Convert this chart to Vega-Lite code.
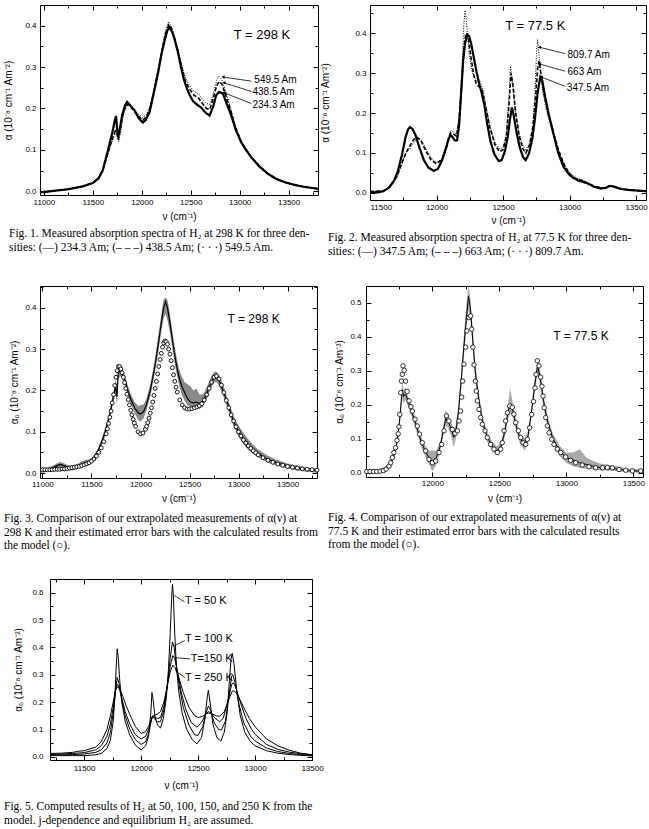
{
"$schema": "https://vega.github.io/schema/vega-lite/v6.json",
"background": "white",
"padding": {"left": 3, "top": 4, "right": 0, "bottom": 0},
"config": {
  "view": {"stroke": "black", "strokeWidth": 1},
  "axis": {"grid": false, "domain": false, "ticks": true, "tickColor": "black", "tickWidth": 1, "labelFont": "Liberation Sans", "labelFontSize": 8, "labelColor": "black", "titleFont": "Liberation Sans", "titleFontSize": 10, "titleFontWeight": "normal", "titleColor": "black", "labelOverlap": false},
  "title": {"font": "Liberation Serif", "fontSize": 11.5, "fontWeight": "normal", "color": "black", "anchor": "start", "orient": "bottom", "frame": "group", "lineHeight": 13.5, "offset": 7},
  "text": {"font": "Liberation Sans", "color": "black"}
},
"datasets": {
"p1": [
{"s":"a","x":10960,"y":-0.003},{"s":"a","x":11100,"y":0.001},{"s":"a","x":11250,"y":0.005},{"s":"a","x":11400,"y":0.012},{"s":"a","x":11500,"y":0.02},{"s":"a","x":11560,"y":0.032},{"s":"a","x":11600,"y":0.05},{"s":"a","x":11650,"y":0.095},{"s":"a","x":11700,"y":0.143},{"s":"a","x":11725,"y":0.172},{"s":"a","x":11737,"y":0.182},{"s":"a","x":11748,"y":0.15},{"s":"a","x":11758,"y":0.13},{"s":"a","x":11775,"y":0.15},{"s":"a","x":11800,"y":0.185},{"s":"a","x":11830,"y":0.208},{"s":"a","x":11850,"y":0.216},{"s":"a","x":11880,"y":0.208},{"s":"a","x":11925,"y":0.196},{"s":"a","x":11970,"y":0.176},{"s":"a","x":12010,"y":0.166},{"s":"a","x":12040,"y":0.172},{"s":"a","x":12078,"y":0.19},{"s":"a","x":12120,"y":0.235},{"s":"a","x":12164,"y":0.283},{"s":"a","x":12200,"y":0.33},{"s":"a","x":12232,"y":0.363},{"s":"a","x":12260,"y":0.388},{"s":"a","x":12283,"y":0.396},{"s":"a","x":12310,"y":0.385},{"s":"a","x":12334,"y":0.368},{"s":"a","x":12370,"y":0.335},{"s":"a","x":12402,"y":0.298},{"s":"a","x":12430,"y":0.27},{"s":"a","x":12453,"y":0.253},{"s":"a","x":12490,"y":0.232},{"s":"a","x":12522,"y":0.218},{"s":"a","x":12560,"y":0.21},{"s":"a","x":12607,"y":0.202},{"s":"a","x":12650,"y":0.19},{"s":"a","x":12692,"y":0.183},{"s":"a","x":12730,"y":0.205},{"s":"a","x":12760,"y":0.232},{"s":"a","x":12790,"y":0.24},{"s":"a","x":12828,"y":0.236},{"s":"a","x":12870,"y":0.21},{"s":"a","x":12914,"y":0.183},{"s":"a","x":12960,"y":0.148},{"s":"a","x":13016,"y":0.118},{"s":"a","x":13070,"y":0.098},{"s":"a","x":13118,"y":0.082},{"s":"a","x":13200,"y":0.06},{"s":"a","x":13289,"y":0.042},{"s":"a","x":13370,"y":0.03},{"s":"a","x":13459,"y":0.022},{"s":"a","x":13550,"y":0.016},{"s":"a","x":13650,"y":0.011},{"s":"a","x":13800,"y":0.006},
{"s":"b","x":10960,"y":-0.003},{"s":"b","x":11100,"y":0.001},{"s":"b","x":11250,"y":0.005},{"s":"b","x":11400,"y":0.012},{"s":"b","x":11500,"y":0.02},{"s":"b","x":11560,"y":0.032},{"s":"b","x":11600,"y":0.05},{"s":"b","x":11650,"y":0.09},{"s":"b","x":11700,"y":0.128},{"s":"b","x":11730,"y":0.146},{"s":"b","x":11745,"y":0.142},{"s":"b","x":11760,"y":0.125},{"s":"b","x":11780,"y":0.15},{"s":"b","x":11810,"y":0.19},{"s":"b","x":11840,"y":0.207},{"s":"b","x":11860,"y":0.21},{"s":"b","x":11900,"y":0.2},{"s":"b","x":11950,"y":0.185},{"s":"b","x":12010,"y":0.172},{"s":"b","x":12050,"y":0.18},{"s":"b","x":12090,"y":0.205},{"s":"b","x":12130,"y":0.248},{"s":"b","x":12170,"y":0.295},{"s":"b","x":12210,"y":0.345},{"s":"b","x":12245,"y":0.383},{"s":"b","x":12275,"y":0.402},{"s":"b","x":12300,"y":0.395},{"s":"b","x":12334,"y":0.37},{"s":"b","x":12370,"y":0.338},{"s":"b","x":12402,"y":0.305},{"s":"b","x":12440,"y":0.27},{"s":"b","x":12480,"y":0.25},{"s":"b","x":12530,"y":0.233},{"s":"b","x":12580,"y":0.225},{"s":"b","x":12620,"y":0.212},{"s":"b","x":12660,"y":0.2},{"s":"b","x":12695,"y":0.198},{"s":"b","x":12730,"y":0.225},{"s":"b","x":12765,"y":0.255},{"s":"b","x":12790,"y":0.265},{"s":"b","x":12820,"y":0.258},{"s":"b","x":12860,"y":0.23},{"s":"b","x":12914,"y":0.19},{"s":"b","x":12960,"y":0.152},{"s":"b","x":13016,"y":0.12},{"s":"b","x":13070,"y":0.099},{"s":"b","x":13118,"y":0.083},{"s":"b","x":13200,"y":0.061},{"s":"b","x":13289,"y":0.043},{"s":"b","x":13370,"y":0.031},{"s":"b","x":13459,"y":0.022},{"s":"b","x":13550,"y":0.016},{"s":"b","x":13650,"y":0.011},{"s":"b","x":13800,"y":0.006},
{"s":"c","x":10960,"y":-0.003},{"s":"c","x":11100,"y":0.001},{"s":"c","x":11250,"y":0.005},{"s":"c","x":11400,"y":0.012},{"s":"c","x":11500,"y":0.02},{"s":"c","x":11560,"y":0.032},{"s":"c","x":11600,"y":0.05},{"s":"c","x":11650,"y":0.088},{"s":"c","x":11700,"y":0.122},{"s":"c","x":11730,"y":0.14},{"s":"c","x":11748,"y":0.135},{"s":"c","x":11765,"y":0.12},{"s":"c","x":11785,"y":0.145},{"s":"c","x":11815,"y":0.188},{"s":"c","x":11845,"y":0.205},{"s":"c","x":11865,"y":0.208},{"s":"c","x":11905,"y":0.2},{"s":"c","x":11955,"y":0.188},{"s":"c","x":12010,"y":0.178},{"s":"c","x":12050,"y":0.185},{"s":"c","x":12090,"y":0.21},{"s":"c","x":12130,"y":0.252},{"s":"c","x":12170,"y":0.3},{"s":"c","x":12210,"y":0.35},{"s":"c","x":12245,"y":0.39},{"s":"c","x":12272,"y":0.41},{"s":"c","x":12300,"y":0.4},{"s":"c","x":12334,"y":0.375},{"s":"c","x":12370,"y":0.342},{"s":"c","x":12402,"y":0.31},{"s":"c","x":12440,"y":0.278},{"s":"c","x":12480,"y":0.258},{"s":"c","x":12530,"y":0.242},{"s":"c","x":12580,"y":0.235},{"s":"c","x":12620,"y":0.222},{"s":"c","x":12660,"y":0.212},{"s":"c","x":12695,"y":0.21},{"s":"c","x":12730,"y":0.235},{"s":"c","x":12765,"y":0.268},{"s":"c","x":12785,"y":0.278},{"s":"c","x":12815,"y":0.27},{"s":"c","x":12860,"y":0.24},{"s":"c","x":12914,"y":0.195},{"s":"c","x":12960,"y":0.155},{"s":"c","x":13016,"y":0.122},{"s":"c","x":13070,"y":0.1},{"s":"c","x":13118,"y":0.084},{"s":"c","x":13200,"y":0.062},{"s":"c","x":13289,"y":0.044},{"s":"c","x":13370,"y":0.032},{"s":"c","x":13459,"y":0.023},{"s":"c","x":13550,"y":0.016},{"s":"c","x":13650,"y":0.011},{"s":"c","x":13800,"y":0.006}
],
"p1l": [{"x":13150,"y":0.27,"t":"549.5 Am"},{"x":13130,"y":0.24,"t":"438.5 Am"},{"x":13130,"y":0.208,"t":"234.3 Am"}],
"p1a": [{"x":13120,"y":0.266,"x2":12830,"y2":0.276},{"x":13120,"y":0.241,"x2":12840,"y2":0.262},{"x":13120,"y":0.212,"x2":12840,"y2":0.238}],
"p1T": [{"x":12939,"y":0.377,"t":"T = 298 K"}],
"p2": [
{"s":"a","x":11500,"y":0.002},{"s":"a","x":11560,"y":0.001},{"s":"a","x":11600,"y":0.004},{"s":"a","x":11640,"y":0.012},{"s":"a","x":11680,"y":0.03},{"s":"a","x":11710,"y":0.055},{"s":"a","x":11740,"y":0.095},{"s":"a","x":11767,"y":0.139},{"s":"a","x":11785,"y":0.158},{"s":"a","x":11800,"y":0.165},{"s":"a","x":11820,"y":0.16},{"s":"a","x":11842,"y":0.145},{"s":"a","x":11870,"y":0.115},{"s":"a","x":11905,"y":0.082},{"s":"a","x":11940,"y":0.063},{"s":"a","x":11980,"y":0.055},{"s":"a","x":12010,"y":0.06},{"s":"a","x":12040,"y":0.08},{"s":"a","x":12070,"y":0.11},{"s":"a","x":12090,"y":0.135},{"s":"a","x":12105,"y":0.145},{"s":"a","x":12120,"y":0.14},{"s":"a","x":12140,"y":0.13},{"s":"a","x":12155,"y":0.132},{"s":"a","x":12170,"y":0.17},{"s":"a","x":12185,"y":0.25},{"s":"a","x":12200,"y":0.33},{"s":"a","x":12215,"y":0.375},{"s":"a","x":12230,"y":0.395},{"s":"a","x":12245,"y":0.393},{"s":"a","x":12260,"y":0.375},{"s":"a","x":12280,"y":0.34},{"s":"a","x":12300,"y":0.305},{"s":"a","x":12320,"y":0.275},{"s":"a","x":12340,"y":0.25},{"s":"a","x":12360,"y":0.22},{"s":"a","x":12380,"y":0.175},{"s":"a","x":12405,"y":0.13},{"s":"a","x":12435,"y":0.097},{"s":"a","x":12467,"y":0.08},{"s":"a","x":12490,"y":0.082},{"s":"a","x":12515,"y":0.105},{"s":"a","x":12535,"y":0.14},{"s":"a","x":12555,"y":0.19},{"s":"a","x":12567,"y":0.214},{"s":"a","x":12580,"y":0.195},{"s":"a","x":12600,"y":0.155},{"s":"a","x":12625,"y":0.115},{"s":"a","x":12650,"y":0.09},{"s":"a","x":12670,"y":0.082},{"s":"a","x":12695,"y":0.098},{"s":"a","x":12720,"y":0.135},{"s":"a","x":12740,"y":0.185},{"s":"a","x":12760,"y":0.25},{"s":"a","x":12780,"y":0.29},{"s":"a","x":12795,"y":0.282},{"s":"a","x":12817,"y":0.24},{"s":"a","x":12845,"y":0.195},{"s":"a","x":12880,"y":0.147},{"s":"a","x":12915,"y":0.1},{"s":"a","x":12955,"y":0.065},{"s":"a","x":13000,"y":0.045},{"s":"a","x":13030,"y":0.037},{"s":"a","x":13070,"y":0.03},{"s":"a","x":13105,"y":0.027},{"s":"a","x":13140,"y":0.023},{"s":"a","x":13180,"y":0.016},{"s":"a","x":13230,"y":0.011},{"s":"a","x":13270,"y":0.012},{"s":"a","x":13300,"y":0.017},{"s":"a","x":13330,"y":0.016},{"s":"a","x":13380,"y":0.01},{"s":"a","x":13450,"y":0.007},{"s":"a","x":13575,"y":0.004},
{"s":"b","x":11500,"y":0.003},{"s":"b","x":11600,"y":0.005},{"s":"b","x":11650,"y":0.015},{"s":"b","x":11700,"y":0.04},{"s":"b","x":11740,"y":0.075},{"s":"b","x":11770,"y":0.1},{"s":"b","x":11800,"y":0.118},{"s":"b","x":11825,"y":0.132},{"s":"b","x":11850,"y":0.14},{"s":"b","x":11880,"y":0.133},{"s":"b","x":11920,"y":0.105},{"s":"b","x":11960,"y":0.082},{"s":"b","x":12000,"y":0.073},{"s":"b","x":12040,"y":0.083},{"s":"b","x":12080,"y":0.12},{"s":"b","x":12105,"y":0.15},{"s":"b","x":12125,"y":0.148},{"s":"b","x":12150,"y":0.142},{"s":"b","x":12170,"y":0.18},{"s":"b","x":12190,"y":0.27},{"s":"b","x":12205,"y":0.36},{"s":"b","x":12220,"y":0.4},{"s":"b","x":12235,"y":0.398},{"s":"b","x":12255,"y":0.35},{"s":"b","x":12280,"y":0.295},{"s":"b","x":12300,"y":0.272},{"s":"b","x":12325,"y":0.265},{"s":"b","x":12345,"y":0.255},{"s":"b","x":12370,"y":0.215},{"s":"b","x":12400,"y":0.165},{"s":"b","x":12440,"y":0.12},{"s":"b","x":12475,"y":0.103},{"s":"b","x":12500,"y":0.108},{"s":"b","x":12525,"y":0.14},{"s":"b","x":12545,"y":0.22},{"s":"b","x":12560,"y":0.3},{"s":"b","x":12575,"y":0.27},{"s":"b","x":12595,"y":0.2},{"s":"b","x":12620,"y":0.145},{"s":"b","x":12650,"y":0.11},{"s":"b","x":12672,"y":0.1},{"s":"b","x":12700,"y":0.12},{"s":"b","x":12725,"y":0.165},{"s":"b","x":12745,"y":0.24},{"s":"b","x":12760,"y":0.31},{"s":"b","x":12770,"y":0.33},{"s":"b","x":12785,"y":0.3},{"s":"b","x":12810,"y":0.245},{"s":"b","x":12840,"y":0.2},{"s":"b","x":12880,"y":0.15},{"s":"b","x":12920,"y":0.105},{"s":"b","x":12960,"y":0.07},{"s":"b","x":13000,"y":0.048},{"s":"b","x":13050,"y":0.035},{"s":"b","x":13100,"y":0.03},{"s":"b","x":13150,"y":0.022},{"s":"b","x":13200,"y":0.015},{"s":"b","x":13260,"y":0.012},{"s":"b","x":13300,"y":0.017},{"s":"b","x":13340,"y":0.015},{"s":"b","x":13400,"y":0.009},{"s":"b","x":13575,"y":0.004},
{"s":"c","x":11500,"y":0.003},{"s":"c","x":11600,"y":0.005},{"s":"c","x":11650,"y":0.014},{"s":"c","x":11700,"y":0.036},{"s":"c","x":11740,"y":0.07},{"s":"c","x":11760,"y":0.095},{"s":"c","x":11770,"y":0.1},{"s":"c","x":11800,"y":0.11},{"s":"c","x":11830,"y":0.128},{"s":"c","x":11860,"y":0.137},{"s":"c","x":11890,"y":0.13},{"s":"c","x":11930,"y":0.105},{"s":"c","x":11970,"y":0.083},{"s":"c","x":12000,"y":0.076},{"s":"c","x":12040,"y":0.085},{"s":"c","x":12080,"y":0.125},{"s":"c","x":12105,"y":0.155},{"s":"c","x":12125,"y":0.153},{"s":"c","x":12150,"y":0.147},{"s":"c","x":12170,"y":0.19},{"s":"c","x":12190,"y":0.3},{"s":"c","x":12205,"y":0.42},{"s":"c","x":12215,"y":0.458},{"s":"c","x":12228,"y":0.42},{"s":"c","x":12245,"y":0.35},{"s":"c","x":12270,"y":0.3},{"s":"c","x":12300,"y":0.28},{"s":"c","x":12325,"y":0.28},{"s":"c","x":12345,"y":0.265},{"s":"c","x":12370,"y":0.22},{"s":"c","x":12400,"y":0.17},{"s":"c","x":12440,"y":0.125},{"s":"c","x":12475,"y":0.11},{"s":"c","x":12500,"y":0.113},{"s":"c","x":12525,"y":0.15},{"s":"c","x":12545,"y":0.24},{"s":"c","x":12557,"y":0.318},{"s":"c","x":12570,"y":0.28},{"s":"c","x":12590,"y":0.21},{"s":"c","x":12620,"y":0.15},{"s":"c","x":12650,"y":0.118},{"s":"c","x":12672,"y":0.108},{"s":"c","x":12700,"y":0.125},{"s":"c","x":12725,"y":0.17},{"s":"c","x":12740,"y":0.25},{"s":"c","x":12752,"y":0.35},{"s":"c","x":12760,"y":0.385},{"s":"c","x":12772,"y":0.34},{"s":"c","x":12795,"y":0.26},{"s":"c","x":12830,"y":0.2},{"s":"c","x":12870,"y":0.155},{"s":"c","x":12910,"y":0.11},{"s":"c","x":12960,"y":0.072},{"s":"c","x":13000,"y":0.05},{"s":"c","x":13050,"y":0.037},{"s":"c","x":13100,"y":0.032},{"s":"c","x":13150,"y":0.022},{"s":"c","x":13200,"y":0.015},{"s":"c","x":13260,"y":0.012},{"s":"c","x":13300,"y":0.018},{"s":"c","x":13340,"y":0.015},{"s":"c","x":13400,"y":0.009},{"s":"c","x":13575,"y":0.004}
],
"p2l": [{"x":12985,"y":0.345,"t":"809.7 Am"},{"x":12985,"y":0.303,"t":"663 Am"},{"x":12980,"y":0.262,"t":"347.5 Am"}],
"p2a": [{"x":12967,"y":0.349,"x2":12775,"y2":0.365},{"x":12967,"y":0.305,"x2":12775,"y2":0.323},{"x":12967,"y":0.267,"x2":12790,"y2":0.29}],
"p2T": [{"x":12517,"y":0.418,"t":"T = 77.5 K"}],
"p3m": [
{"x":10980,"y":0.005,"lo":0.0,"hi":0.011},{"x":11050,"y":0.008,"lo":0.003,"hi":0.013},{"x":11100,"y":0.012,"lo":0.006,"hi":0.017},{"x":11150,"y":0.018,"lo":0.012,"hi":0.024},{"x":11180,"y":0.021,"lo":0.015,"hi":0.027},{"x":11220,"y":0.018,"lo":0.012,"hi":0.024},{"x":11260,"y":0.013,"lo":0.007,"hi":0.019},{"x":11300,"y":0.012,"lo":0.006,"hi":0.018},{"x":11350,"y":0.015,"lo":0.009,"hi":0.021},{"x":11400,"y":0.022,"lo":0.016,"hi":0.028},{"x":11440,"y":0.026,"lo":0.02,"hi":0.032},{"x":11480,"y":0.027,"lo":0.021,"hi":0.033},{"x":11520,"y":0.035,"lo":0.028,"hi":0.042},{"x":11560,"y":0.05,"lo":0.043,"hi":0.057},{"x":11600,"y":0.072,"lo":0.064,"hi":0.08},{"x":11640,"y":0.1,"lo":0.09,"hi":0.11},{"x":11680,"y":0.135,"lo":0.125,"hi":0.145},{"x":11720,"y":0.18,"lo":0.168,"hi":0.192},{"x":11745,"y":0.21,"lo":0.195,"hi":0.225},{"x":11760,"y":0.185,"lo":0.165,"hi":0.215},{"x":11772,"y":0.24,"lo":0.225,"hi":0.255},{"x":11790,"y":0.25,"lo":0.235,"hi":0.262},{"x":11810,"y":0.245,"lo":0.232,"hi":0.258},{"x":11840,"y":0.225,"lo":0.213,"hi":0.237},{"x":11870,"y":0.2,"lo":0.188,"hi":0.212},{"x":11900,"y":0.18,"lo":0.168,"hi":0.192},{"x":11940,"y":0.158,"lo":0.144,"hi":0.172},{"x":11980,"y":0.145,"lo":0.128,"hi":0.162},{"x":12000,"y":0.143,"lo":0.125,"hi":0.165},{"x":12030,"y":0.148,"lo":0.132,"hi":0.166},{"x":12060,"y":0.165,"lo":0.15,"hi":0.18},{"x":12100,"y":0.2,"lo":0.185,"hi":0.215},{"x":12140,"y":0.25,"lo":0.235,"hi":0.265},{"x":12180,"y":0.31,"lo":0.29,"hi":0.33},{"x":12210,"y":0.36,"lo":0.34,"hi":0.38},{"x":12235,"y":0.4,"lo":0.375,"hi":0.42},{"x":12255,"y":0.415,"lo":0.385,"hi":0.425},{"x":12275,"y":0.4,"lo":0.37,"hi":0.42},{"x":12300,"y":0.365,"lo":0.34,"hi":0.385},{"x":12330,"y":0.315,"lo":0.295,"hi":0.335},{"x":12360,"y":0.27,"lo":0.25,"hi":0.29},{"x":12390,"y":0.235,"lo":0.215,"hi":0.255},{"x":12420,"y":0.21,"lo":0.19,"hi":0.235},{"x":12450,"y":0.195,"lo":0.175,"hi":0.22},{"x":12480,"y":0.18,"lo":0.165,"hi":0.215},{"x":12510,"y":0.172,"lo":0.158,"hi":0.21},{"x":12540,"y":0.17,"lo":0.155,"hi":0.2},{"x":12570,"y":0.172,"lo":0.158,"hi":0.205},{"x":12600,"y":0.168,"lo":0.155,"hi":0.19},{"x":12640,"y":0.175,"lo":0.162,"hi":0.19},{"x":12680,"y":0.195,"lo":0.182,"hi":0.21},{"x":12720,"y":0.22,"lo":0.206,"hi":0.234},{"x":12755,"y":0.233,"lo":0.22,"hi":0.246},{"x":12780,"y":0.232,"lo":0.22,"hi":0.245},{"x":12810,"y":0.22,"lo":0.207,"hi":0.233},{"x":12850,"y":0.195,"lo":0.182,"hi":0.208},{"x":12900,"y":0.16,"lo":0.148,"hi":0.172},{"x":12950,"y":0.125,"lo":0.113,"hi":0.137},{"x":13000,"y":0.1,"lo":0.088,"hi":0.115},{"x":13050,"y":0.082,"lo":0.07,"hi":0.097},{"x":13100,"y":0.068,"lo":0.056,"hi":0.082},{"x":13150,"y":0.056,"lo":0.046,"hi":0.068},{"x":13200,"y":0.047,"lo":0.038,"hi":0.057},{"x":13300,"y":0.033,"lo":0.025,"hi":0.042},{"x":13400,"y":0.024,"lo":0.017,"hi":0.031},{"x":13500,"y":0.017,"lo":0.011,"hi":0.023},{"x":13600,"y":0.012,"lo":0.006,"hi":0.018},{"x":13700,"y":0.008,"lo":0.003,"hi":0.013},{"x":13800,"y":0.006,"lo":0.001,"hi":0.011}
],
"p3c": [
{"x":11000,"y":0.008},{"x":11025,"y":0.008},{"x":11050,"y":0.008},{"x":11075,"y":0.008},{"x":11100,"y":0.008},{"x":11125,"y":0.009},{"x":11150,"y":0.009},{"x":11175,"y":0.009},{"x":11200,"y":0.01},{"x":11225,"y":0.01},{"x":11250,"y":0.011},{"x":11275,"y":0.012},{"x":11300,"y":0.013},{"x":11325,"y":0.014},{"x":11350,"y":0.015},{"x":11375,"y":0.016},{"x":11400,"y":0.018},{"x":11425,"y":0.02},{"x":11450,"y":0.022},{"x":11475,"y":0.025},{"x":11500,"y":0.029},{"x":11525,"y":0.034},{"x":11550,"y":0.041},{"x":11575,"y":0.05},{"x":11600,"y":0.061},{"x":11625,"y":0.076},{"x":11650,"y":0.095},{"x":11662,"y":0.107},{"x":11675,"y":0.12},{"x":11687,"y":0.135},{"x":11700,"y":0.15},{"x":11712,"y":0.17},{"x":11725,"y":0.19},{"x":11737,"y":0.212},{"x":11750,"y":0.232},{"x":11762,"y":0.248},{"x":11775,"y":0.258},{"x":11787,"y":0.258},{"x":11800,"y":0.252},{"x":11812,"y":0.243},{"x":11825,"y":0.232},{"x":11837,"y":0.219},{"x":11850,"y":0.205},{"x":11862,"y":0.191},{"x":11875,"y":0.178},{"x":11887,"y":0.165},{"x":11900,"y":0.152},{"x":11912,"y":0.141},{"x":11925,"y":0.13},{"x":11937,"y":0.121},{"x":11950,"y":0.113},{"x":11975,"y":0.1},{"x":12000,"y":0.095},{"x":12025,"y":0.097},{"x":12050,"y":0.106},{"x":12062,"y":0.113},{"x":12075,"y":0.122},{"x":12087,"y":0.133},{"x":12100,"y":0.145},{"x":12112,"y":0.158},{"x":12125,"y":0.172},{"x":12137,"y":0.188},{"x":12150,"y":0.205},{"x":12162,"y":0.222},{"x":12175,"y":0.24},{"x":12187,"y":0.258},{"x":12200,"y":0.275},{"x":12212,"y":0.29},{"x":12225,"y":0.305},{"x":12237,"y":0.315},{"x":12250,"y":0.32},{"x":12262,"y":0.318},{"x":12275,"y":0.312},{"x":12287,"y":0.3},{"x":12300,"y":0.288},{"x":12312,"y":0.272},{"x":12325,"y":0.255},{"x":12337,"y":0.238},{"x":12350,"y":0.222},{"x":12362,"y":0.208},{"x":12375,"y":0.196},{"x":12400,"y":0.177},{"x":12425,"y":0.165},{"x":12450,"y":0.158},{"x":12475,"y":0.155},{"x":12500,"y":0.155},{"x":12525,"y":0.156},{"x":12550,"y":0.158},{"x":12575,"y":0.16},{"x":12600,"y":0.163},{"x":12625,"y":0.168},{"x":12650,"y":0.177},{"x":12675,"y":0.19},{"x":12700,"y":0.205},{"x":12725,"y":0.22},{"x":12750,"y":0.232},{"x":12775,"y":0.235},{"x":12800,"y":0.228},{"x":12825,"y":0.213},{"x":12850,"y":0.195},{"x":12875,"y":0.176},{"x":12900,"y":0.158},{"x":12925,"y":0.141},{"x":12950,"y":0.126},{"x":12975,"y":0.112},{"x":13000,"y":0.1},{"x":13025,"y":0.09},{"x":13050,"y":0.08},{"x":13075,"y":0.073},{"x":13100,"y":0.066},{"x":13125,"y":0.06},{"x":13150,"y":0.054},{"x":13175,"y":0.049},{"x":13200,"y":0.044},{"x":13250,"y":0.037},{"x":13300,"y":0.031},{"x":13350,"y":0.026},{"x":13400,"y":0.022},{"x":13450,"y":0.019},{"x":13500,"y":0.016},{"x":13550,"y":0.014},{"x":13600,"y":0.012},{"x":13650,"y":0.01},{"x":13700,"y":0.009},{"x":13750,"y":0.008},{"x":13800,"y":0.007}
],
"p3T": [{"x":12888,"y":0.374,"t":"T = 298 K"}],
"p4m": [
{"x":11505,"y":0.005,"lo":0.0,"hi":0.01},{"x":11550,"y":0.005,"lo":0.0,"hi":0.01},{"x":11600,"y":0.006,"lo":0.001,"hi":0.011},{"x":11650,"y":0.012,"lo":0.006,"hi":0.018},{"x":11690,"y":0.03,"lo":0.022,"hi":0.038},{"x":11720,"y":0.06,"lo":0.05,"hi":0.07},{"x":11740,"y":0.1,"lo":0.088,"hi":0.112},{"x":11755,"y":0.15,"lo":0.135,"hi":0.165},{"x":11768,"y":0.21,"lo":0.19,"hi":0.23},{"x":11775,"y":0.245,"lo":0.22,"hi":0.27},{"x":11785,"y":0.225,"lo":0.205,"hi":0.245},{"x":11800,"y":0.232,"lo":0.215,"hi":0.25},{"x":11820,"y":0.21,"lo":0.195,"hi":0.225},{"x":11850,"y":0.175,"lo":0.16,"hi":0.19},{"x":11880,"y":0.14,"lo":0.125,"hi":0.155},{"x":11910,"y":0.1,"lo":0.085,"hi":0.115},{"x":11940,"y":0.07,"lo":0.055,"hi":0.085},{"x":11970,"y":0.048,"lo":0.03,"hi":0.066},{"x":12000,"y":0.035,"lo":0.005,"hi":0.065},{"x":12030,"y":0.045,"lo":0.025,"hi":0.065},{"x":12060,"y":0.08,"lo":0.065,"hi":0.095},{"x":12085,"y":0.13,"lo":0.115,"hi":0.145},{"x":12100,"y":0.16,"lo":0.14,"hi":0.185},{"x":12120,"y":0.15,"lo":0.13,"hi":0.17},{"x":12140,"y":0.13,"lo":0.11,"hi":0.15},{"x":12160,"y":0.105,"lo":0.075,"hi":0.13},{"x":12175,"y":0.12,"lo":0.1,"hi":0.14},{"x":12195,"y":0.18,"lo":0.16,"hi":0.2},{"x":12215,"y":0.27,"lo":0.245,"hi":0.295},{"x":12235,"y":0.37,"lo":0.34,"hi":0.4},{"x":12255,"y":0.46,"lo":0.43,"hi":0.5},{"x":12270,"y":0.52,"lo":0.48,"hi":0.55},{"x":12285,"y":0.48,"lo":0.45,"hi":0.51},{"x":12300,"y":0.4,"lo":0.37,"hi":0.43},{"x":12320,"y":0.3,"lo":0.275,"hi":0.325},{"x":12345,"y":0.22,"lo":0.2,"hi":0.24},{"x":12375,"y":0.15,"lo":0.135,"hi":0.165},{"x":12410,"y":0.105,"lo":0.09,"hi":0.12},{"x":12450,"y":0.078,"lo":0.065,"hi":0.091},{"x":12480,"y":0.065,"lo":0.052,"hi":0.078},{"x":12510,"y":0.075,"lo":0.062,"hi":0.088},{"x":12540,"y":0.12,"lo":0.105,"hi":0.135},{"x":12565,"y":0.18,"lo":0.16,"hi":0.2},{"x":12580,"y":0.2,"lo":0.175,"hi":0.25},{"x":12600,"y":0.185,"lo":0.165,"hi":0.205},{"x":12625,"y":0.14,"lo":0.125,"hi":0.155},{"x":12655,"y":0.1,"lo":0.085,"hi":0.115},{"x":12690,"y":0.082,"lo":0.065,"hi":0.1},{"x":12715,"y":0.11,"lo":0.095,"hi":0.125},{"x":12740,"y":0.18,"lo":0.165,"hi":0.195},{"x":12765,"y":0.26,"lo":0.24,"hi":0.28},{"x":12785,"y":0.315,"lo":0.295,"hi":0.33},{"x":12805,"y":0.28,"lo":0.26,"hi":0.3},{"x":12830,"y":0.21,"lo":0.19,"hi":0.23},{"x":12860,"y":0.15,"lo":0.135,"hi":0.165},{"x":12900,"y":0.1,"lo":0.085,"hi":0.115},{"x":12950,"y":0.065,"lo":0.05,"hi":0.08},{"x":13000,"y":0.045,"lo":0.03,"hi":0.06},{"x":13050,"y":0.037,"lo":0.02,"hi":0.06},{"x":13100,"y":0.03,"lo":0.015,"hi":0.07},{"x":13150,"y":0.025,"lo":0.012,"hi":0.045},{"x":13200,"y":0.02,"lo":0.01,"hi":0.035},{"x":13250,"y":0.016,"lo":0.008,"hi":0.028},{"x":13300,"y":0.015,"lo":0.007,"hi":0.025},{"x":13350,"y":0.013,"lo":0.006,"hi":0.022},{"x":13400,"y":0.01,"lo":0.004,"hi":0.018},{"x":13450,"y":0.007,"lo":0.002,"hi":0.013},{"x":13500,"y":0.006,"lo":0.001,"hi":0.012},{"x":13572,"y":0.005,"lo":0.0,"hi":0.01}
],
"p4c": [
{"x":11510,"y":0.004},{"x":11535,"y":0.004},{"x":11560,"y":0.004},{"x":11585,"y":0.004},{"x":11610,"y":0.005},{"x":11635,"y":0.007},{"x":11655,"y":0.011},{"x":11677,"y":0.02},{"x":11690,"y":0.03},{"x":11701,"y":0.045},{"x":11713,"y":0.06},{"x":11726,"y":0.074},{"x":11736,"y":0.096},{"x":11745,"y":0.115},{"x":11751,"y":0.136},{"x":11757,"y":0.172},{"x":11764,"y":0.236},{"x":11770,"y":0.27},{"x":11776,"y":0.29},{"x":11781,"y":0.315},{"x":11790,"y":0.302},{"x":11800,"y":0.27},{"x":11812,"y":0.24},{"x":11826,"y":0.212},{"x":11840,"y":0.195},{"x":11851,"y":0.182},{"x":11871,"y":0.158},{"x":11888,"y":0.138},{"x":11905,"y":0.114},{"x":11925,"y":0.089},{"x":11950,"y":0.065},{"x":11975,"y":0.04},{"x":12000,"y":0.03},{"x":12025,"y":0.035},{"x":12050,"y":0.06},{"x":12070,"y":0.084},{"x":12087,"y":0.124},{"x":12105,"y":0.168},{"x":12124,"y":0.153},{"x":12149,"y":0.128},{"x":12169,"y":0.116},{"x":12187,"y":0.124},{"x":12199,"y":0.153},{"x":12211,"y":0.182},{"x":12219,"y":0.223},{"x":12226,"y":0.27},{"x":12236,"y":0.32},{"x":12249,"y":0.37},{"x":12258,"y":0.418},{"x":12272,"y":0.457},{"x":12286,"y":0.462},{"x":12294,"y":0.423},{"x":12303,"y":0.37},{"x":12311,"y":0.318},{"x":12321,"y":0.27},{"x":12328,"y":0.241},{"x":12336,"y":0.212},{"x":12348,"y":0.187},{"x":12361,"y":0.163},{"x":12373,"y":0.143},{"x":12393,"y":0.124},{"x":12410,"y":0.104},{"x":12435,"y":0.084},{"x":12460,"y":0.07},{"x":12485,"y":0.06},{"x":12510,"y":0.07},{"x":12522,"y":0.089},{"x":12535,"y":0.124},{"x":12547,"y":0.153},{"x":12560,"y":0.177},{"x":12577,"y":0.197},{"x":12597,"y":0.193},{"x":12609,"y":0.173},{"x":12622,"y":0.148},{"x":12642,"y":0.124},{"x":12659,"y":0.104},{"x":12677,"y":0.089},{"x":12697,"y":0.084},{"x":12709,"y":0.099},{"x":12726,"y":0.133},{"x":12741,"y":0.172},{"x":12755,"y":0.21},{"x":12766,"y":0.25},{"x":12774,"y":0.29},{"x":12784,"y":0.33},{"x":12796,"y":0.315},{"x":12808,"y":0.282},{"x":12818,"y":0.255},{"x":12826,"y":0.226},{"x":12835,"y":0.192},{"x":12846,"y":0.163},{"x":12858,"y":0.138},{"x":12871,"y":0.118},{"x":12891,"y":0.099},{"x":12908,"y":0.084},{"x":12933,"y":0.07},{"x":12958,"y":0.06},{"x":12995,"y":0.047},{"x":13032,"y":0.037},{"x":13070,"y":0.03},{"x":13119,"y":0.023},{"x":13169,"y":0.018},{"x":13219,"y":0.015},{"x":13269,"y":0.015},{"x":13306,"y":0.016},{"x":13343,"y":0.015},{"x":13393,"y":0.01},{"x":13443,"y":0.008},{"x":13493,"y":0.006},{"x":13555,"y":0.006}
],
"p4T": [{"x":12902,"y":0.403,"t":"T = 77.5 K"}],
"p5": [
{"s":"50","x":11200,"y":0.004},{"s":"50","x":11300,"y":0.004},{"s":"50","x":11400,"y":0.004},{"s":"50","x":11500,"y":0.004},{"s":"50","x":11600,"y":0.007},{"s":"50","x":11650,"y":0.012},{"s":"50","x":11700,"y":0.03},{"s":"50","x":11730,"y":0.06},{"s":"50","x":11755,"y":0.13},{"s":"50","x":11770,"y":0.22},{"s":"50","x":11780,"y":0.32},{"s":"50","x":11790,"y":0.395},{"s":"50","x":11800,"y":0.36},{"s":"50","x":11812,"y":0.28},{"s":"50","x":11830,"y":0.2},{"s":"50","x":11860,"y":0.13},{"s":"50","x":11900,"y":0.08},{"s":"50","x":11950,"y":0.042},{"s":"50","x":12000,"y":0.025},{"s":"50","x":12040,"y":0.04},{"s":"50","x":12065,"y":0.075},{"s":"50","x":12085,"y":0.16},{"s":"50","x":12095,"y":0.235},{"s":"50","x":12105,"y":0.21},{"s":"50","x":12120,"y":0.15},{"s":"50","x":12145,"y":0.115},{"s":"50","x":12170,"y":0.105},{"s":"50","x":12195,"y":0.14},{"s":"50","x":12220,"y":0.21},{"s":"50","x":12240,"y":0.32},{"s":"50","x":12255,"y":0.45},{"s":"50","x":12268,"y":0.58},{"s":"50","x":12275,"y":0.63},{"s":"50","x":12283,"y":0.59},{"s":"50","x":12295,"y":0.45},{"s":"50","x":12310,"y":0.33},{"s":"50","x":12330,"y":0.24},{"s":"50","x":12360,"y":0.16},{"s":"50","x":12400,"y":0.1},{"s":"50","x":12450,"y":0.062},{"s":"50","x":12490,"y":0.047},{"s":"50","x":12530,"y":0.07},{"s":"50","x":12560,"y":0.14},{"s":"50","x":12578,"y":0.21},{"s":"50","x":12590,"y":0.243},{"s":"50","x":12605,"y":0.2},{"s":"50","x":12630,"y":0.12},{"s":"50","x":12665,"y":0.07},{"s":"50","x":12700,"y":0.057},{"s":"50","x":12730,"y":0.09},{"s":"50","x":12755,"y":0.16},{"s":"50","x":12775,"y":0.28},{"s":"50","x":12790,"y":0.36},{"s":"50","x":12800,"y":0.378},{"s":"50","x":12815,"y":0.34},{"s":"50","x":12840,"y":0.24},{"s":"50","x":12870,"y":0.15},{"s":"50","x":12910,"y":0.09},{"s":"50","x":12960,"y":0.055},{"s":"50","x":13000,"y":0.04},{"s":"50","x":13100,"y":0.022},{"s":"50","x":13200,"y":0.013},{"s":"50","x":13300,"y":0.008},{"s":"50","x":13400,"y":0.005},{"s":"50","x":13500,"y":0.003},
{"s":"100","x":11200,"y":0.006},{"s":"100","x":11400,"y":0.008},{"s":"100","x":11500,"y":0.01},{"s":"100","x":11600,"y":0.016},{"s":"100","x":11650,"y":0.025},{"s":"100","x":11700,"y":0.05},{"s":"100","x":11730,"y":0.09},{"s":"100","x":11755,"y":0.16},{"s":"100","x":11775,"y":0.24},{"s":"100","x":11790,"y":0.29},{"s":"100","x":11805,"y":0.27},{"s":"100","x":11830,"y":0.21},{"s":"100","x":11860,"y":0.15},{"s":"100","x":11900,"y":0.1},{"s":"100","x":11950,"y":0.062},{"s":"100","x":12000,"y":0.045},{"s":"100","x":12040,"y":0.055},{"s":"100","x":12070,"y":0.09},{"s":"100","x":12090,"y":0.135},{"s":"100","x":12100,"y":0.15},{"s":"100","x":12115,"y":0.14},{"s":"100","x":12145,"y":0.128},{"s":"100","x":12170,"y":0.128},{"s":"100","x":12200,"y":0.17},{"s":"100","x":12230,"y":0.26},{"s":"100","x":12255,"y":0.36},{"s":"100","x":12275,"y":0.42},{"s":"100","x":12290,"y":0.4},{"s":"100","x":12310,"y":0.33},{"s":"100","x":12335,"y":0.26},{"s":"100","x":12370,"y":0.18},{"s":"100","x":12420,"y":0.115},{"s":"100","x":12470,"y":0.08},{"s":"100","x":12500,"y":0.078},{"s":"100","x":12540,"y":0.11},{"s":"100","x":12570,"y":0.16},{"s":"100","x":12590,"y":0.185},{"s":"100","x":12610,"y":0.17},{"s":"100","x":12640,"y":0.125},{"s":"100","x":12680,"y":0.1},{"s":"100","x":12705,"y":0.098},{"s":"100","x":12740,"y":0.13},{"s":"100","x":12770,"y":0.22},{"s":"100","x":12795,"y":0.295},{"s":"100","x":12805,"y":0.3},{"s":"100","x":12825,"y":0.27},{"s":"100","x":12860,"y":0.19},{"s":"100","x":12900,"y":0.125},{"s":"100","x":12960,"y":0.075},{"s":"100","x":13000,"y":0.058},{"s":"100","x":13100,"y":0.032},{"s":"100","x":13200,"y":0.019},{"s":"100","x":13300,"y":0.012},{"s":"100","x":13400,"y":0.008},{"s":"100","x":13500,"y":0.005},
{"s":"150","x":11200,"y":0.008},{"s":"150","x":11400,"y":0.012},{"s":"150","x":11500,"y":0.015},{"s":"150","x":11600,"y":0.025},{"s":"150","x":11650,"y":0.04},{"s":"150","x":11700,"y":0.075},{"s":"150","x":11730,"y":0.12},{"s":"150","x":11755,"y":0.18},{"s":"150","x":11775,"y":0.24},{"s":"150","x":11790,"y":0.265},{"s":"150","x":11805,"y":0.255},{"s":"150","x":11830,"y":0.215},{"s":"150","x":11860,"y":0.165},{"s":"150","x":11900,"y":0.12},{"s":"150","x":11950,"y":0.08},{"s":"150","x":12000,"y":0.065},{"s":"150","x":12040,"y":0.075},{"s":"150","x":12070,"y":0.105},{"s":"150","x":12090,"y":0.135},{"s":"150","x":12100,"y":0.145},{"s":"150","x":12115,"y":0.145},{"s":"150","x":12145,"y":0.14},{"s":"150","x":12170,"y":0.143},{"s":"150","x":12200,"y":0.185},{"s":"150","x":12230,"y":0.26},{"s":"150","x":12255,"y":0.33},{"s":"150","x":12278,"y":0.37},{"s":"150","x":12295,"y":0.36},{"s":"150","x":12320,"y":0.31},{"s":"150","x":12350,"y":0.24},{"s":"150","x":12390,"y":0.175},{"s":"150","x":12440,"y":0.125},{"s":"150","x":12490,"y":0.108},{"s":"150","x":12530,"y":0.125},{"s":"150","x":12565,"y":0.155},{"s":"150","x":12590,"y":0.165},{"s":"150","x":12615,"y":0.16},{"s":"150","x":12650,"y":0.14},{"s":"150","x":12690,"y":0.128},{"s":"150","x":12720,"y":0.14},{"s":"150","x":12760,"y":0.2},{"s":"150","x":12795,"y":0.265},{"s":"150","x":12810,"y":0.27},{"s":"150","x":12830,"y":0.255},{"s":"150","x":12870,"y":0.2},{"s":"150","x":12920,"y":0.14},{"s":"150","x":12970,"y":0.1},{"s":"150","x":13000,"y":0.082},{"s":"150","x":13100,"y":0.045},{"s":"150","x":13200,"y":0.027},{"s":"150","x":13300,"y":0.017},{"s":"150","x":13400,"y":0.011},{"s":"150","x":13500,"y":0.007},
{"s":"250","x":11200,"y":0.012},{"s":"250","x":11300,"y":0.013},{"s":"250","x":11400,"y":0.016},{"s":"250","x":11450,"y":0.02},{"s":"250","x":11500,"y":0.022},{"s":"250","x":11600,"y":0.035},{"s":"250","x":11650,"y":0.055},{"s":"250","x":11700,"y":0.1},{"s":"250","x":11730,"y":0.15},{"s":"250","x":11755,"y":0.2},{"s":"250","x":11775,"y":0.245},{"s":"250","x":11790,"y":0.255},{"s":"250","x":11810,"y":0.25},{"s":"250","x":11840,"y":0.22},{"s":"250","x":11870,"y":0.185},{"s":"250","x":11900,"y":0.155},{"s":"250","x":11950,"y":0.11},{"s":"250","x":12000,"y":0.085},{"s":"250","x":12040,"y":0.092},{"s":"250","x":12070,"y":0.115},{"s":"250","x":12095,"y":0.145},{"s":"250","x":12110,"y":0.15},{"s":"250","x":12140,"y":0.155},{"s":"250","x":12170,"y":0.165},{"s":"250","x":12200,"y":0.2},{"s":"250","x":12230,"y":0.26},{"s":"250","x":12255,"y":0.31},{"s":"250","x":12278,"y":0.335},{"s":"250","x":12300,"y":0.325},{"s":"250","x":12330,"y":0.29},{"s":"250","x":12370,"y":0.235},{"s":"250","x":12420,"y":0.18},{"s":"250","x":12470,"y":0.15},{"s":"250","x":12500,"y":0.143},{"s":"250","x":12540,"y":0.148},{"s":"250","x":12575,"y":0.158},{"s":"250","x":12595,"y":0.16},{"s":"250","x":12620,"y":0.157},{"s":"250","x":12660,"y":0.15},{"s":"250","x":12690,"y":0.148},{"s":"250","x":12730,"y":0.165},{"s":"250","x":12770,"y":0.21},{"s":"250","x":12800,"y":0.24},{"s":"250","x":12820,"y":0.24},{"s":"250","x":12850,"y":0.225},{"s":"250","x":12900,"y":0.18},{"s":"250","x":12950,"y":0.14},{"s":"250","x":13000,"y":0.11},{"s":"250","x":13100,"y":0.065},{"s":"250","x":13200,"y":0.04},{"s":"250","x":13300,"y":0.024},{"s":"250","x":13400,"y":0.013},{"s":"250","x":13500,"y":0.007}
],
"p5l": [{"x":12385,"y":0.57,"t":"T = 50 K"},{"x":12385,"y":0.432,"t":"T = 100 K"},{"x":12435,"y":0.358,"t":"T=150 K"},{"x":12385,"y":0.287,"t":"T = 250 K"}],
"p5a": [{"x":12380,"y":0.567,"x2":12290,"y2":0.59},{"x":12383,"y":0.425,"x2":12290,"y2":0.405},{"x":12430,"y":0.358,"x2":12300,"y2":0.362},{"x":12383,"y":0.29,"x2":12300,"y2":0.315}]
},
"bounds": "flush",
"spacing": 574,
"vconcat": [
{
"bounds": "flush",
"spacing": 281,
"vconcat": [
{
"bounds": "flush",
"spacing": 52,
"hconcat": [
{
"width": 278, "height": 190,
"title": {"text": ["Fig. 1. Measured absorption spectra of H₂ at 298 K for three den-", "sities: (—) 234.3 Am; (– – –) 438.5 Am; (· · ·) 549.5 Am."], "orient": "bottom", "anchor": "start", "frame": "group", "dx": -31},
"resolve": {"axis": {"x": "independent", "y": "independent"}},
"layer": [
{"data": {"name": "p1"}, "mark": {"type": "line", "color": "black"},
 "encoding": {
  "x": {"field": "x", "type": "quantitative", "scale": {"domain": [10960, 13800], "nice": false, "zero": false},
        "axis": {"orient": "bottom", "values": [11000,11250,11500,11750,12000,12250,12500,12750,13000,13250,13500,13750], "format": "d", "labelExpr": "datum.value % 500 === 0 ? datum.label : ''", "tickSize": {"condition": {"test": "datum.value % 500 === 0", "value": -5}, "value": -3}, "labelPadding": 8, "title": "ν (cm⁻¹)", "titlePadding": 3}},
  "y": {"field": "y", "type": "quantitative", "scale": {"domain": [-0.009, 0.45], "nice": false, "zero": false},
        "axis": {"orient": "left", "values": [0,0.05,0.1,0.15,0.2,0.25,0.3,0.35,0.4], "format": ".1f", "labelExpr": "abs(datum.value*10-round(datum.value*10)) < 0.001 ? datum.label : ''", "tickSize": {"condition": {"test": "abs(datum.value*10-round(datum.value*10)) < 0.001", "value": -5}, "value": -3}, "labelPadding": 9, "title": "α (10⁻⁸ cm⁻¹ Am⁻²)", "titlePadding": 11}},
  "strokeDash": {"field": "s", "type": "nominal", "scale": {"domain": ["a","b","c"], "range": [[1,0],[4,2],[1,1.5]]}, "legend": null},
  "strokeWidth": {"field": "s", "type": "nominal", "scale": {"domain": ["a","b","c"], "range": [2.2,1,1]}, "legend": null}
 }},
{"data": {"name": "p1a"}, "mark": {"type": "rule", "color": "black", "strokeWidth": 0.8},
 "encoding": {
  "x": {"field": "x", "type": "quantitative", "scale": {"domain": [10960, 13800], "nice": false, "zero": false}, "axis": null},
  "y": {"field": "y", "type": "quantitative", "scale": {"domain": [-0.009, 0.45], "nice": false, "zero": false}, "axis": null},
  "x2": {"field": "x2"}, "y2": {"field": "y2"}
 }},
{"data": {"name": "p1a"}, "mark": {"type": "point", "shape": "triangle-left", "filled": true, "color": "black", "size": 12, "opacity": 1},
 "encoding": {
  "x": {"field": "x2", "type": "quantitative", "scale": {"domain": [10960, 13800], "nice": false, "zero": false}, "axis": null},
  "y": {"field": "y2", "type": "quantitative", "scale": {"domain": [-0.009, 0.45], "nice": false, "zero": false}, "axis": null}
 }},
{"data": {"name": "p1l"}, "mark": {"type": "text", "align": "left", "baseline": "middle", "fontSize": 10},
 "encoding": {
  "x": {"field": "x", "type": "quantitative", "scale": {"domain": [10960, 13800], "nice": false, "zero": false}, "axis": null},
  "y": {"field": "y", "type": "quantitative", "scale": {"domain": [-0.009, 0.45], "nice": false, "zero": false}, "axis": null},
  "text": {"field": "t"}
 }},
{"data": {"name": "p1T"}, "mark": {"type": "text", "align": "left", "baseline": "middle", "fontSize": 13},
 "encoding": {
  "x": {"field": "x", "type": "quantitative", "scale": {"domain": [10960, 13800], "nice": false, "zero": false},
        "axis": {"orient": "top", "values": [11000,11250,11500,11750,12000,12250,12500,12750,13000,13250,13500,13750], "labels": false, "title": null, "tickSize": {"condition": {"test": "datum.value % 500 === 0", "value": -5}, "value": -3}}},
  "y": {"field": "y", "type": "quantitative", "scale": {"domain": [-0.009, 0.45], "nice": false, "zero": false},
        "axis": {"orient": "right", "values": [0,0.05,0.1,0.15,0.2,0.25,0.3,0.35,0.4], "labels": false, "title": null, "tickSize": {"condition": {"test": "abs(datum.value*10-round(datum.value*10)) < 0.001", "value": -5}, "value": -3}}},
  "text": {"field": "t"}
 }}
]
},
{
"width": 276, "height": 195,
"title": {"text": ["Fig. 2. Measured absorption spectra of H₂ at 77.5 K for three den-", "sities: (—) 347.5 Am; (– – –) 663 Am; (· · ·) 809.7 Am."], "orient": "bottom", "anchor": "start", "frame": "group", "dx": -42},
"resolve": {"axis": {"x": "independent", "y": "independent"}},
"layer": [
{"data": {"name": "p2"}, "mark": {"type": "line", "color": "black"},
 "encoding": {
  "x": {"field": "x", "type": "quantitative", "scale": {"domain": [11500, 13575], "nice": false, "zero": false},
        "axis": {"orient": "bottom", "values": [11500,11750,12000,12250,12500,12750,13000,13250,13500], "format": "d", "labelExpr": "datum.value % 500 === 0 ? datum.label : ''", "tickSize": {"condition": {"test": "datum.value % 500 === 0", "value": -5}, "value": -3}, "labelPadding": 8, "title": "ν (cm⁻¹)", "titlePadding": 2}},
  "y": {"field": "y", "type": "quantitative", "scale": {"domain": [-0.018, 0.471], "nice": false, "zero": false},
        "axis": {"orient": "left", "values": [0,0.05,0.1,0.15,0.2,0.25,0.3,0.35,0.4,0.45], "format": ".1f", "labelExpr": "abs(datum.value*10-round(datum.value*10)) < 0.001 ? datum.label : ''", "tickSize": {"condition": {"test": "abs(datum.value*10-round(datum.value*10)) < 0.001", "value": -5}, "value": -3}, "labelPadding": 9, "title": "α (10⁻⁸ cm⁻¹ Am⁻²)", "titlePadding": 24}},
  "strokeDash": {"field": "s", "type": "nominal", "scale": {"domain": ["a","b","c"], "range": [[1,0],[4,2],[1,1.5]]}, "legend": null},
  "strokeWidth": {"field": "s", "type": "nominal", "scale": {"domain": ["a","b","c"], "range": [2,1,1]}, "legend": null}
 }},
{"data": {"name": "p2a"}, "mark": {"type": "rule", "color": "black", "strokeWidth": 0.8},
 "encoding": {
  "x": {"field": "x", "type": "quantitative", "scale": {"domain": [11500, 13575], "nice": false, "zero": false}, "axis": null},
  "y": {"field": "y", "type": "quantitative", "scale": {"domain": [-0.018, 0.471], "nice": false, "zero": false}, "axis": null},
  "x2": {"field": "x2"}, "y2": {"field": "y2"}
 }},
{"data": {"name": "p2a"}, "mark": {"type": "point", "shape": "triangle-left", "filled": true, "color": "black", "size": 12, "opacity": 1},
 "encoding": {
  "x": {"field": "x2", "type": "quantitative", "scale": {"domain": [11500, 13575], "nice": false, "zero": false}, "axis": null},
  "y": {"field": "y2", "type": "quantitative", "scale": {"domain": [-0.018, 0.471], "nice": false, "zero": false}, "axis": null}
 }},
{"data": {"name": "p2l"}, "mark": {"type": "text", "align": "left", "baseline": "middle", "fontSize": 10},
 "encoding": {
  "x": {"field": "x", "type": "quantitative", "scale": {"domain": [11500, 13575], "nice": false, "zero": false}, "axis": null},
  "y": {"field": "y", "type": "quantitative", "scale": {"domain": [-0.018, 0.471], "nice": false, "zero": false}, "axis": null},
  "text": {"field": "t"}
 }},
{"data": {"name": "p2T"}, "mark": {"type": "text", "align": "left", "baseline": "middle", "fontSize": 13},
 "encoding": {
  "x": {"field": "x", "type": "quantitative", "scale": {"domain": [11500, 13575], "nice": false, "zero": false},
        "axis": {"orient": "top", "values": [11500,11750,12000,12250,12500,12750,13000,13250,13500], "labels": false, "title": null, "tickSize": {"condition": {"test": "datum.value % 500 === 0", "value": -5}, "value": -3}}},
  "y": {"field": "y", "type": "quantitative", "scale": {"domain": [-0.018, 0.471], "nice": false, "zero": false},
        "axis": {"orient": "right", "values": [0,0.05,0.1,0.15,0.2,0.25,0.3,0.35,0.4,0.45], "labels": false, "title": null, "tickSize": {"condition": {"test": "abs(datum.value*10-round(datum.value*10)) < 0.001", "value": -5}, "value": -3}}},
  "text": {"field": "t"}
 }}
]
}
]
},
{
"bounds": "flush",
"spacing": 49,
"hconcat": [
{
"width": 277, "height": 192,
"title": {"text": ["Fig. 3. Comparison of our extrapolated measurements of α(ν) at", "298 K and their estimated error bars with the calculated results from", "the model (○)."], "orient": "bottom", "anchor": "start", "frame": "group", "dx": -36, "offset": 10},
"resolve": {"axis": {"x": "independent", "y": "independent"}},
"layer": [
{"data": {"name": "p3m"}, "mark": {"type": "area", "color": "#8a8a8a"},
 "encoding": {
  "x": {"field": "x", "type": "quantitative", "scale": {"domain": [10975, 13800], "nice": false, "zero": false}, "axis": null},
  "y": {"field": "lo", "type": "quantitative", "scale": {"domain": [-0.012, 0.453], "nice": false, "zero": false}, "axis": null},
  "y2": {"field": "hi"}
 }},
{"data": {"name": "p3m"}, "mark": {"type": "line", "color": "black", "strokeWidth": 1.2},
 "encoding": {
  "x": {"field": "x", "type": "quantitative", "scale": {"domain": [10975, 13800], "nice": false, "zero": false},
        "axis": {"orient": "bottom", "values": [11000,11250,11500,11750,12000,12250,12500,12750,13000,13250,13500,13750], "format": "d", "labelExpr": "datum.value % 500 === 0 ? datum.label : ''", "tickSize": {"condition": {"test": "datum.value % 500 === 0", "value": -5}, "value": -3}, "labelPadding": 7, "title": "ν (cm⁻¹)", "titlePadding": 3}},
  "y": {"field": "y", "type": "quantitative", "scale": {"domain": [-0.012, 0.453], "nice": false, "zero": false},
        "axis": {"orient": "left", "values": [0,0.05,0.1,0.15,0.2,0.25,0.3,0.35,0.4,0.45], "format": ".1f", "labelExpr": "abs(datum.value*10-round(datum.value*10)) < 0.001 ? datum.label : ''", "tickSize": {"condition": {"test": "abs(datum.value*10-round(datum.value*10)) < 0.001", "value": -5}, "value": -3}, "labelPadding": 9, "title": "α₀ (10⁻⁸ cm⁻¹ Am⁻²)", "titlePadding": 5}}
 }},
{"data": {"name": "p3c"}, "mark": {"type": "point", "shape": "circle", "filled": true, "fill": "white", "stroke": "black", "strokeWidth": 0.9, "size": 15, "opacity": 1},
 "encoding": {
  "x": {"field": "x", "type": "quantitative", "scale": {"domain": [10975, 13800], "nice": false, "zero": false}, "axis": null},
  "y": {"field": "y", "type": "quantitative", "scale": {"domain": [-0.012, 0.453], "nice": false, "zero": false}, "axis": null}
 }},
{"data": {"name": "p3T"}, "mark": {"type": "text", "align": "left", "baseline": "middle", "fontSize": 12},
 "encoding": {
  "x": {"field": "x", "type": "quantitative", "scale": {"domain": [10975, 13800], "nice": false, "zero": false},
        "axis": {"orient": "top", "values": [11000,11250,11500,11750,12000,12250,12500,12750,13000,13250,13500,13750], "labels": false, "title": null, "tickSize": {"condition": {"test": "datum.value % 500 === 0", "value": -5}, "value": -3}}},
  "y": {"field": "y", "type": "quantitative", "scale": {"domain": [-0.012, 0.453], "nice": false, "zero": false},
        "axis": {"orient": "right", "values": [0,0.05,0.1,0.15,0.2,0.25,0.3,0.35,0.4,0.45], "labels": false, "title": null, "tickSize": {"condition": {"test": "abs(datum.value*10-round(datum.value*10)) < 0.001", "value": -5}, "value": -3}}},
  "text": {"field": "t"}
 }}
]
},
{
"width": 277, "height": 191,
"title": {"text": ["Fig. 4. Comparison of our extrapolated measurements of α(ν) at", "77.5 K and their estimated error bars with the calculated results", "from the model (○)."], "orient": "bottom", "anchor": "start", "frame": "group", "dx": -38, "offset": 9},
"resolve": {"axis": {"x": "independent", "y": "independent"}},
"layer": [
{"data": {"name": "p4m"}, "mark": {"type": "area", "color": "#a8a8a8"},
 "encoding": {
  "x": {"field": "x", "type": "quantitative", "scale": {"domain": [11505, 13572], "nice": false, "zero": false}, "axis": null},
  "y": {"field": "lo", "type": "quantitative", "scale": {"domain": [-0.012, 0.55], "nice": false, "zero": false}, "axis": null},
  "y2": {"field": "hi"}
 }},
{"data": {"name": "p4m"}, "mark": {"type": "line", "color": "black", "strokeWidth": 1},
 "encoding": {
  "x": {"field": "x", "type": "quantitative", "scale": {"domain": [11505, 13572], "nice": false, "zero": false},
        "axis": {"orient": "bottom", "values": [11750,12000,12250,12500,12750,13000,13250,13500], "format": "d", "labelExpr": "datum.value % 500 === 0 ? datum.label : ''", "tickSize": {"condition": {"test": "datum.value % 500 === 0", "value": -5}, "value": -3}, "labelPadding": 7, "title": "ν (cm⁻¹)", "titlePadding": 4}},
  "y": {"field": "y", "type": "quantitative", "scale": {"domain": [-0.012, 0.55], "nice": false, "zero": false},
        "axis": {"orient": "left", "values": [0,0.05,0.1,0.15,0.2,0.25,0.3,0.35,0.4,0.45,0.5], "format": ".1f", "labelExpr": "abs(datum.value*10-round(datum.value*10)) < 0.001 ? datum.label : ''", "tickSize": {"condition": {"test": "abs(datum.value*10-round(datum.value*10)) < 0.001", "value": -5}, "value": -3}, "labelPadding": 10, "title": "α₀ (10⁻⁸ cm⁻¹ Am⁻³)", "titlePadding": 5}}
 }},
{"data": {"name": "p4c"}, "mark": {"type": "point", "shape": "circle", "filled": true, "fill": "white", "stroke": "black", "strokeWidth": 0.8, "size": 20, "opacity": 1},
 "encoding": {
  "x": {"field": "x", "type": "quantitative", "scale": {"domain": [11505, 13572], "nice": false, "zero": false}, "axis": null},
  "y": {"field": "y", "type": "quantitative", "scale": {"domain": [-0.012, 0.55], "nice": false, "zero": false}, "axis": null}
 }},
{"data": {"name": "p4T"}, "mark": {"type": "text", "align": "left", "baseline": "middle", "fontSize": 12},
 "encoding": {
  "x": {"field": "x", "type": "quantitative", "scale": {"domain": [11505, 13572], "nice": false, "zero": false},
        "axis": {"orient": "top", "values": [11750,12000,12250,12500,12750,13000,13250,13500], "labels": false, "title": null, "tickSize": {"condition": {"test": "datum.value % 500 === 0", "value": -5}, "value": -3}}},
  "y": {"field": "y", "type": "quantitative", "scale": {"domain": [-0.012, 0.55], "nice": false, "zero": false},
        "axis": {"orient": "right", "values": [0,0.05,0.1,0.15,0.2,0.25,0.3,0.35,0.4,0.45,0.5], "labels": false, "title": null, "tickSize": {"condition": {"test": "abs(datum.value*10-round(datum.value*10)) < 0.001", "value": -5}, "value": -3}}},
  "text": {"field": "t"}
 }}
]
}
]
}
]
},
{
"bounds": "flush",
"spacing": 0,
"hconcat": [
{"width": 10, "height": 181, "view": {"stroke": null}, "data": {"values": [{"z": 0}]}, "mark": {"type": "point", "opacity": 0}},
{
"width": 262, "height": 181,
"title": {"text": ["Fig. 5. Computed results of H₂ at 50, 100, 150, and 250 K from the", "model. j-dependence and equilibrium H₂ are assumed."], "orient": "bottom", "anchor": "start", "frame": "group", "dx": -46, "offset": 11},
"resolve": {"axis": {"x": "independent", "y": "independent"}},
"layer": [
{"data": {"name": "p5"}, "mark": {"type": "line", "color": "black", "strokeWidth": 1},
 "encoding": {
  "x": {"field": "x", "type": "quantitative", "scale": {"domain": [11200, 13500], "nice": false, "zero": false},
        "axis": {"orient": "bottom", "values": [11250,11500,11750,12000,12250,12500,12750,13000,13250,13500], "format": "d", "labelExpr": "datum.value % 500 === 0 ? datum.label : ''", "tickSize": {"condition": {"test": "datum.value % 500 === 0", "value": -5}, "value": -3}, "labelPadding": 9, "title": "ν (cm⁻¹)", "titlePadding": 6, "labelFlush": false}},
  "y": {"field": "y", "type": "quantitative", "scale": {"domain": [-0.012, 0.65], "nice": false, "zero": false},
        "axis": {"orient": "left", "values": [0,0.05,0.1,0.15,0.2,0.25,0.3,0.35,0.4,0.45,0.5,0.55,0.6], "format": ".1f", "labelExpr": "abs(datum.value*10-round(datum.value*10)) < 0.001 ? datum.label : ''", "tickSize": {"condition": {"test": "abs(datum.value*10-round(datum.value*10)) < 0.001", "value": -5}, "value": -3}, "labelPadding": 12, "title": "α₀ (10⁻⁸ cm⁻¹ Am⁻²)", "titlePadding": 8}},
  "detail": {"field": "s", "type": "nominal"}
 }},
{"data": {"name": "p5a"}, "mark": {"type": "rule", "color": "black", "strokeWidth": 0.8},
 "encoding": {
  "x": {"field": "x", "type": "quantitative", "scale": {"domain": [11200, 13500], "nice": false, "zero": false}, "axis": null},
  "y": {"field": "y", "type": "quantitative", "scale": {"domain": [-0.012, 0.65], "nice": false, "zero": false}, "axis": null},
  "x2": {"field": "x2"}, "y2": {"field": "y2"}
 }},
{"data": {"name": "p5l"}, "mark": {"type": "text", "align": "left", "baseline": "middle", "fontSize": 11},
 "encoding": {
  "x": {"field": "x", "type": "quantitative", "scale": {"domain": [11200, 13500], "nice": false, "zero": false},
        "axis": {"orient": "top", "values": [11250,11500,11750,12000,12250,12500,12750,13000,13250,13500], "labels": false, "title": null, "tickSize": {"condition": {"test": "datum.value % 500 === 0", "value": -5}, "value": -3}}},
  "y": {"field": "y", "type": "quantitative", "scale": {"domain": [-0.012, 0.65], "nice": false, "zero": false},
        "axis": {"orient": "right", "values": [0,0.05,0.1,0.15,0.2,0.25,0.3,0.35,0.4,0.45,0.5,0.55,0.6], "labels": false, "title": null, "tickSize": {"condition": {"test": "abs(datum.value*10-round(datum.value*10)) < 0.001", "value": -5}, "value": -3}}},
  "text": {"field": "t"}
 }}
]
}
]
}
]
}
